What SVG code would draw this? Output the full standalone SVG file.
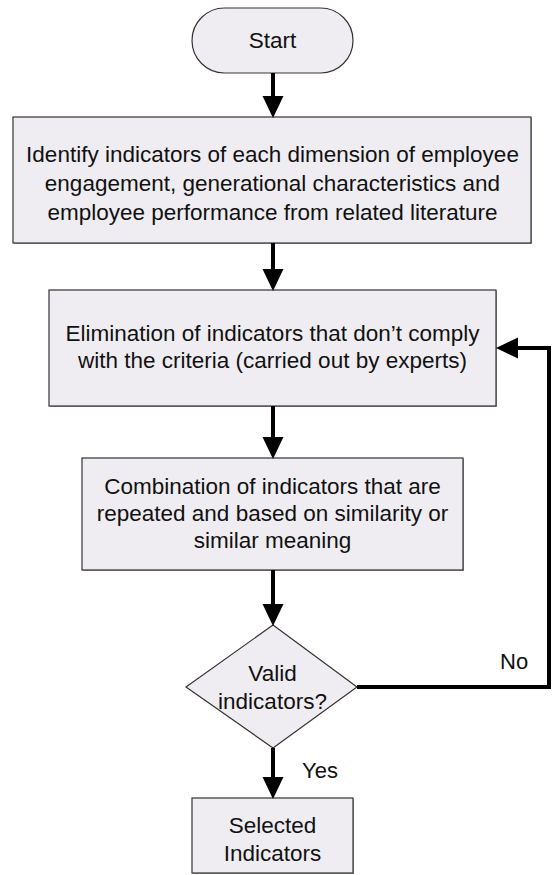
<svg xmlns="http://www.w3.org/2000/svg" width="552" height="875" viewBox="0 0 552 875">
<style>
.box{fill:#efedf2;stroke:#333;stroke-width:1.2}
.sh{fill:#a0a0a0}
.t{font-family:"Liberation Sans",Arial,sans-serif;font-size:22.5px;fill:#111;text-anchor:middle}
.lbl{font-family:"Liberation Sans",Arial,sans-serif;font-size:22px;fill:#111}
.c{fill:none;stroke:#000;stroke-width:4}
</style>
<defs>
<marker id="ah" markerUnits="userSpaceOnUse" markerWidth="22" markerHeight="22" viewBox="0 0 21 20" refX="0" refY="10" orient="auto">
<path d="M0,0 L21,10 L0,20 Z" fill="#000"/>
</marker>
</defs>
<rect width="552" height="875" fill="#fff"/>
<g id="start">
<rect x="192" y="8" width="161" height="65" rx="32.5" ry="32.5" class="box"/>
<text x="272.5" y="48" class="t">Start</text>
</g>
<g id="identify">
<rect x="14" y="118" width="518" height="126" class="sh"/>
<rect x="13" y="117" width="518" height="126" class="box"/>
<text x="272.5" y="162" class="t">Identify indicators of each dimension of employee</text>
<text x="272.5" y="191" class="t">engagement, generational characteristics and</text>
<text x="272.5" y="220" class="t">employee performance from related literature</text>
</g>
<g id="eliminate">
<rect x="50" y="291" width="447" height="116" class="sh"/>
<rect x="49" y="290" width="447" height="116" class="box"/>
<text x="272.5" y="341" class="t">Elimination of indicators that don’t comply</text>
<text x="272.5" y="368" class="t">with the criteria (carried out by experts)</text>
</g>
<g id="combine">
<rect x="83" y="459" width="381" height="112" class="sh"/>
<rect x="82" y="458" width="381" height="112" class="box"/>
<text x="272.5" y="494" class="t">Combination of indicators that are</text>
<text x="272.5" y="521" class="t">repeated and based on similarity or</text>
<text x="272.5" y="548" class="t">similar meaning</text>
</g>
<g id="valid">
<polygon points="273,625 357,687 273,748 186,687" class="box"/>
<text x="272.5" y="681" class="t">Valid</text>
<text x="272.5" y="709" class="t">indicators?</text>
</g>
<g id="selected">
<rect x="193" y="799" width="161" height="75" class="sh"/>
<rect x="192" y="798" width="161" height="75" class="box"/>
<text x="272.5" y="833" class="t">Selected</text>
<text x="272.5" y="861" class="t">Indicators</text>
</g>
<g id="connectors">
<path d="M273,73 V96" class="c" marker-end="url(#ah)"/>
<path d="M273,243 V269" class="c" marker-end="url(#ah)"/>
<path d="M273,406 V437" class="c" marker-end="url(#ah)"/>
<path d="M273,570 V604" class="c" marker-end="url(#ah)"/>
<path d="M273,748 V777" class="c" marker-end="url(#ah)"/>
<path d="M357,687 H549 V348 H518" class="c" marker-end="url(#ah)"/>
<text x="500" y="669" class="lbl">No</text>
<text x="302" y="778" class="lbl">Yes</text>
</g>
</svg>
